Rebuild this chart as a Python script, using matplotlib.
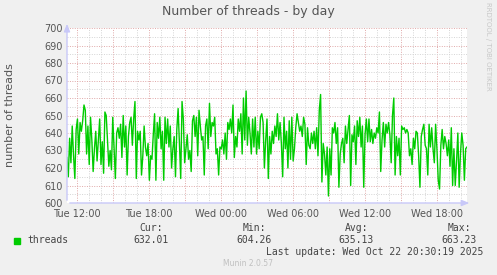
import numpy as np
import matplotlib
matplotlib.use("Agg")
import matplotlib.pyplot as plt

# ---- data ----
series_name = "threads"
threads = [
    626, 615, 637, 623, 644, 627, 614, 642, 648, 628, 646, 641, 647, 656, 653, 628,
    644, 622, 649, 636, 618, 631, 641, 624, 636, 648, 622, 635, 617, 652, 650, 636,
    621, 630, 619, 649, 631, 614, 640, 643, 637, 645, 626, 650, 632, 644, 616, 638,
    646, 649, 633, 648, 658, 614, 641, 636, 641, 616, 627, 644, 632, 627, 634, 613,
    627, 625, 639, 651, 613, 646, 637, 649, 631, 641, 613, 649, 634,
    648, 632, 644, 620, 631, 638, 615, 642, 654, 634, 614, 658, 648, 623, 631, 639,
    625, 630, 618, 647, 650, 638, 649, 627, 653, 644, 636, 638, 616, 644, 648, 631,
    657, 638, 646, 644, 649, 628, 631, 616, 632, 631, 636, 628, 640, 625, 646, 642,
    648, 640, 656, 626, 638, 632, 648, 641, 651, 628, 660, 636, 664, 633, 649, 640,
    628, 648, 632, 649, 628, 641, 631, 649, 651, 646, 620, 636, 648,
    614, 638, 628, 641, 634, 644, 638, 651, 636, 646, 634, 615, 649, 631, 641, 620,
    647, 625, 649, 624, 631, 643, 651, 646, 641, 644, 638, 649, 645, 622, 643, 633,
    631, 640, 634, 641, 631, 643, 627, 653, 662, 612, 634, 628, 616, 632, 604, 631,
    616, 643, 640, 646, 634, 643, 609, 628, 634, 637, 623, 644, 634, 642, 650, 610,
    639, 635, 644, 622, 647, 638, 649, 632, 644, 609, 639, 648, 635,
    648, 635, 642, 634, 640, 637, 643, 640, 652, 618, 636, 646, 632, 645, 640, 646,
    639, 623, 650, 660, 616, 638, 627, 637, 616, 644, 642, 643, 640, 642, 640, 627,
    631, 622, 637, 631, 641, 640, 627, 609, 638, 642, 645, 633, 631, 616, 645, 632,
    643, 631, 623, 645, 631, 613, 608, 633, 642, 631, 638, 634, 627, 636, 621, 643,
    610, 631, 610, 624, 640, 609, 628, 640, 633, 613, 631, 632,
]
x_tick_labels = ["Tue 12:00", "Tue 18:00", "Wed 00:00", "Wed 06:00", "Wed 12:00", "Wed 18:00"]
x_tick_hours = [12, 18, 24, 30, 36, 42]          # hours since Tue 00:00
y_ticks = [600, 610, 620, 630, 640, 650, 660, 670, 680, 690, 700]
stat_labels = ["Cur:", "Min:", "Avg:", "Max:"]
stat_values = ["632.01", "604.26", "635.13", "663.23"]
title = "Number of threads - by day"
ylabel = "number of threads"
last_update = "Last update: Wed Oct 22 20:30:19 2025"
version = "Munin 2.0.57"
side_text = "RRDTOOL / TOBI OETIKER"

t_start, t_end = 11.17, 44.5   # hours since Tue 00:00 covered by samples
x_left, x_right = 11.17, 44.5

# ---- figure ----
W, H = 497, 275
fig = plt.figure(figsize=(W / 100, H / 100), dpi=100, facecolor="#f0f0f0")
ax = fig.add_axes([67 / W, (H - 203) / H, 400 / W, 175 / H])
ax.set_facecolor("white")

t = np.linspace(t_start, t_end, len(threads))
ax.plot(t, threads, color="#00cc00", lw=1.0, zorder=3)

ax.set_xlim(x_left, x_right)
ax.set_ylim(600, 700)

# grid
for h in np.arange(np.ceil(x_left), x_right, 1):
    major = (int(h) % 3 == 0)
    ax.axvline(h, color="#e0a8a8" if major else "#d4d4d4", lw=0.7,
               ls=(0, (1, 1.5)), zorder=1)
for v in range(605, 700, 5):
    major = (v % 10 == 0)
    ax.axhline(v, color="#e0a8a8" if major else "#d4d4d4", lw=0.7,
               ls=(0, (1, 1.5)), zorder=1)
ax.axhline(700, color="#e0a8a8", lw=0.7, ls=(0, (1, 1.5)), zorder=1)

for s in ax.spines.values():
    s.set_visible(False)

ax.set_yticks(y_ticks)
ax.set_yticklabels([str(v) for v in y_ticks])
ax.set_xticks(x_tick_hours)
ax.set_xticklabels(x_tick_labels)
ax.tick_params(axis="both", length=0, labelsize=7, colors="#555555", pad=3)
ax.tick_params(axis="x", pad=4)

# axis arrows
ac = "#c8c8f8"
ax.annotate("", xy=(0, 1.04), xytext=(0, 0), xycoords="axes fraction",
            arrowprops=dict(arrowstyle="-|>,head_width=0.18,head_length=0.45",
                            color=ac, lw=1), annotation_clip=False)
ax.annotate("", xy=(1.013, 0), xytext=(0, 0), xycoords="axes fraction",
            arrowprops=dict(arrowstyle="-|>,head_width=0.18,head_length=0.45",
                            color=ac, lw=1), annotation_clip=False)

# texts
fig.text(248 / W, 1 - 12 / H, title, ha="center", va="center", fontsize=9, color="#555555")
fig.text(10 / W, 1 - 115 / H, ylabel, ha="center", va="center", rotation=90,
         fontsize=8, color="#555555")
fig.text(488 / W, 1 - 46 / H, side_text, ha="center", va="center", rotation=270,
         fontsize=5, color="#c8c8c8")

mono = "DejaVu Sans Mono"
fig.patches.append(plt.Rectangle((14 / W, 1 - 244 / H), 6 / W, 6 / H,
                                 transform=fig.transFigure, color="#00cc00"))
fig.text(27 / W, 1 - 240 / H, series_name, ha="left", va="center",
         fontsize=7, family=mono, color="#444444")
stat_right = [169, 272, 374, 477]
for lab, val, xr in zip(stat_labels, stat_values, stat_right):
    fig.text((xr - 6) / W, 1 - 228 / H, lab, ha="right", va="center",
             fontsize=7, family=mono, color="#444444")
    fig.text(xr / W, 1 - 240 / H, val, ha="right", va="center",
             fontsize=7, family=mono, color="#444444")
fig.text(483 / W, 1 - 252 / H, last_update, ha="right", va="center",
         fontsize=7, family=mono, color="#444444")
fig.text(248 / W, 1 - 264 / H, version, ha="center", va="center",
         fontsize=5.5, color="#c0c0c0")

fig.savefig("out.png", dpi=100, facecolor=fig.get_facecolor())
